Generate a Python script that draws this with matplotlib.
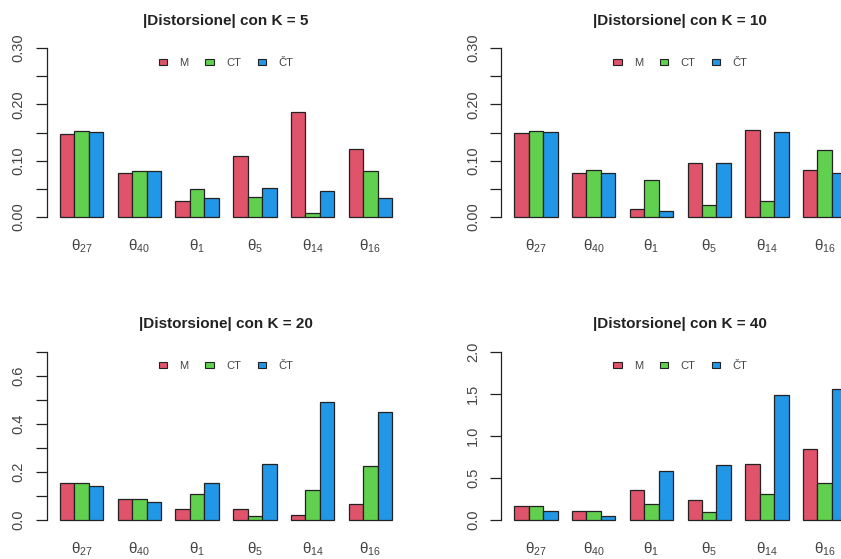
import matplotlib
matplotlib.use("Agg")
import matplotlib.pyplot as plt
import numpy as np
from matplotlib.patches import Patch

plt.rcParams['font.family'] = ['Liberation Sans', 'DejaVu Sans']
plt.rcParams['mathtext.fontset'] = 'custom'
plt.rcParams['mathtext.rm'] = 'Liberation Sans'
plt.rcParams['mathtext.it'] = 'Liberation Sans'

params = ["θ$_{27}$", "θ$_{40}$", "θ$_{1}$", "θ$_{5}$", "θ$_{14}$", "θ$_{16}$"]
series_names = ["M", "CT", "ČT"]
colors = ["#DF536B", "#61D04F", "#2297E6"]

# K = 5
k5_M  = [0.148, 0.078, 0.028, 0.108, 0.186, 0.120]
k5_CT = [0.153, 0.082, 0.050, 0.035, 0.0065, 0.082]
k5_CTc = [0.151, 0.082, 0.033, 0.052, 0.047, 0.034]
# K = 10
k10_M  = [0.149, 0.078, 0.015, 0.095, 0.155, 0.084]
k10_CT = [0.153, 0.084, 0.065, 0.021, 0.028, 0.119]
k10_CTc = [0.151, 0.078, 0.011, 0.095, 0.151, 0.079]
# K = 20
k20_M  = [0.153, 0.086, 0.046, 0.046, 0.021, 0.065]
k20_CT = [0.153, 0.086, 0.106, 0.015, 0.122, 0.222]
k20_CTc = [0.142, 0.072, 0.153, 0.233, 0.490, 0.449]
# K = 40
k40_M  = [0.159, 0.103, 0.349, 0.234, 0.663, 0.837]
k40_CT = [0.159, 0.103, 0.190, 0.087, 0.302, 0.433]
k40_CTc = [0.103, 0.048, 0.579, 0.651, 1.488, 1.560]

panels = [
    ("|Distorsione| con K = 5", [k5_M, k5_CT, k5_CTc], 0.30, [0, 0.10, 0.20, 0.30], ["0.00", "0.10", "0.20", "0.30"], [0.05, 0.15, 0.25]),
    ("|Distorsione| con K = 10", [k10_M, k10_CT, k10_CTc], 0.30, [0, 0.10, 0.20, 0.30], ["0.00", "0.10", "0.20", "0.30"], [0.05, 0.15, 0.25]),
    ("|Distorsione| con K = 20", [k20_M, k20_CT, k20_CTc], 0.70, [0, 0.2, 0.4, 0.6], ["0.0", "0.2", "0.4", "0.6"], [0.1, 0.3, 0.5, 0.7]),
    ("|Distorsione| con K = 40", [k40_M, k40_CT, k40_CTc], 2.0, [0, 0.5, 1.0, 1.5, 2.0], ["0.0", "0.5", "1.0", "1.5", "2.0"], []),
]

W, H = 841, 559
fig = plt.figure(figsize=(W / 100, H / 100), dpi=100)
fig.patch.set_facecolor("white")

# plot regions in pixels (left, top, right, bottom)
regions = [
    (46.7, 41.2, 405.3, 223.8),
    (501.0, 41.2, 859.6, 223.8),
    (46.7, 345.0, 405.3, 526.4),
    (501.0, 345.0, 859.6, 526.4),
]

for (title, data, ymax, majors, majlabels, minors), (l, t, r, b) in zip(panels, regions):
    ax = fig.add_axes([l / W, (H - b) / H, (r - l) / W, (b - t) / H])
    n = len(params)
    for j, (vals, c) in enumerate(zip(data, colors)):
        x = 1 + np.arange(n) * 4 + j + 0.5
        ax.bar(x, vals, width=1.0, color=c, edgecolor="#222222", linewidth=0.9)
    ax.set_xlim(0.08, 24.92)
    ax.set_ylim(-0.04 * ymax, ymax * 1.04)
    for s in ["top", "right", "bottom"]:
        ax.spines[s].set_visible(False)
    ax.spines["left"].set_bounds(0, ymax)
    ax.spines["left"].set_linewidth(0.9)
    ax.spines["left"].set_color("#222222")
    ax.set_yticks(majors)
    ax.set_yticklabels(majlabels, rotation=90, va="center", ha="right")
    ax.set_yticks(minors, minor=True)
    ax.tick_params(axis="y", which="both", length=8, width=0.9, color="#222222",
                   pad=7, labelsize=10.5, labelcolor="#444444")
    ax.set_xticks(1 + np.arange(n) * 4 + 1.5)
    ax.set_xticklabels(params)
    ax.tick_params(axis="x", length=0, pad=10, labelsize=11, labelcolor="#444444")
    ax.set_title(title, fontsize=11, fontweight="bold", pad=12, color="#222222")
    handles = [Patch(facecolor=c, edgecolor="#222222", linewidth=0.8) for c in colors]
    ax.legend(handles, series_names, loc="upper center", bbox_to_anchor=(0.5, 0.965),
              ncol=3, frameon=False, fontsize=8, handlelength=0.75, handleheight=0.45,
              handletextpad=1.1, columnspacing=1.5, labelcolor="#444444")

fig.savefig("out.png", dpi=100)
